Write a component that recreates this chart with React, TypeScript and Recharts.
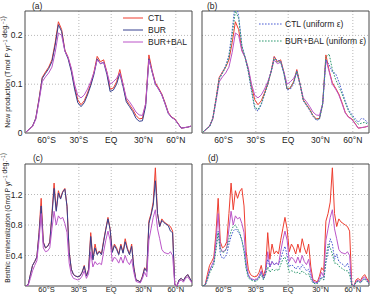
import {
  CartesianGrid,
  Line,
  LineChart,
  ReferenceArea,
  XAxis,
  YAxis,
} from "recharts";

// latitude grids (deg, south negative)
const npLat = [
  -79, -76, -73, -70, -67, -64, -61, -58, -55, -52,
  -49, -46, -43, -40, -37, -34, -31, -28, -25, -22,
  -19, -16, -13, -10, -7, -4, -1, 2, 5, 8,
  11, 14, 17, 20, 23, 26, 29, 32, 35, 38,
  41, 44, 47, 50, 53, 56, 59, 62, 65, 68,
  71, 74,
];
const brLat = [
  -79, -77, -75, -73, -71, -69, -67, -65, -63, -61,
  -59, -57, -55, -53, -51, -49, -47, -45, -43, -41,
  -39, -37, -35, -33, -31, -29, -27, -25, -23, -21,
  -19, -17, -15, -13, -11, -9, -7, -5, -3, -1,
  1, 3, 5, 7, 9, 11, 13, 15, 17, 19,
  21, 23, 25, 27, 29, 31, 33, 35, 37, 39,
  41, 43, 45, 47, 49, 51, 53, 55, 57, 59,
  61, 63, 65, 67, 69, 71, 73, 75,
];

// new production, Tmol P / yr / deg
const npCtl = [
  0.002, 0.008, 0.014, 0.03, 0.07, 0.114, 0.125, 0.135, 0.15, 0.185,
  0.228, 0.212, 0.17, 0.155, 0.13, 0.095, 0.068, 0.058, 0.066, 0.082,
  0.1, 0.125, 0.157, 0.146, 0.15, 0.125, 0.09, 0.092, 0.105, 0.13,
  0.1, 0.068, 0.058, 0.048, 0.036, 0.029, 0.03, 0.06, 0.16, 0.128,
  0.103, 0.092, 0.08, 0.062, 0.042, 0.033, 0.029, 0.02, 0.01, 0.011,
  0.012, 0.014,
];
const npBur = [
  0.002, 0.008, 0.014, 0.03, 0.068, 0.112, 0.122, 0.132, 0.146, 0.18,
  0.222, 0.208, 0.168, 0.152, 0.126, 0.09, 0.062, 0.054, 0.062, 0.078,
  0.097, 0.12, 0.152, 0.142, 0.145, 0.12, 0.085, 0.088, 0.1, 0.122,
  0.095, 0.064, 0.054, 0.044, 0.03, 0.024, 0.025, 0.055, 0.152, 0.125,
  0.1, 0.09, 0.078, 0.06, 0.04, 0.032, 0.028, 0.019, 0.01, 0.011,
  0.012, 0.014,
];
const npBurBal = [
  0.002, 0.008, 0.013, 0.028, 0.065, 0.105, 0.115, 0.123, 0.135, 0.165,
  0.205, 0.2, 0.168, 0.155, 0.133, 0.1, 0.077, 0.072, 0.078, 0.09,
  0.105, 0.124, 0.15, 0.142, 0.145, 0.125, 0.1, 0.105, 0.112, 0.123,
  0.1, 0.072, 0.064, 0.054, 0.043, 0.037, 0.036, 0.06, 0.15, 0.126,
  0.1, 0.09, 0.078, 0.06, 0.041, 0.032, 0.028, 0.019, 0.01, 0.011,
  0.012, 0.014,
];
const npCtlUni = [
  0.002, 0.008, 0.014, 0.03, 0.07, 0.112, 0.125, 0.138, 0.16, 0.21,
  0.27, 0.24, 0.18, 0.155, 0.125, 0.085, 0.05, 0.045, 0.058, 0.078,
  0.1, 0.125, 0.155, 0.148, 0.148, 0.122, 0.088, 0.09, 0.1, 0.128,
  0.1, 0.066, 0.056, 0.046, 0.034, 0.026, 0.028, 0.058, 0.15, 0.14,
  0.125, 0.122, 0.105, 0.085, 0.065, 0.048, 0.038, 0.03, 0.022, 0.03,
  0.028, 0.02,
];
const npBurBalUni = [
  0.002, 0.008, 0.013, 0.029, 0.068, 0.11, 0.122, 0.135, 0.155, 0.2,
  0.25, 0.235, 0.178, 0.155, 0.127, 0.088, 0.052, 0.048, 0.06, 0.08,
  0.1, 0.124, 0.153, 0.145, 0.146, 0.122, 0.09, 0.094, 0.104, 0.126,
  0.1, 0.068, 0.058, 0.048, 0.036, 0.028, 0.029, 0.06, 0.155, 0.162,
  0.13, 0.11, 0.095, 0.08, 0.062, 0.045, 0.035, 0.025, 0.018, 0.02,
  0.022, 0.018,
];

// benthic remineralization, Gmol P / yr / deg
const brCtl = [
  0, 0.02, 0.15, 0.27, 0.32, 0.38, 0.7, 1.15, 0.58, 0.5,
  0.52, 0.58, 0.95, 1.35, 1.0, 1.25, 1.15, 1.24, 1.28, 1.05,
  0.45, 0.22, 0.15, 0.13, 0.12, 0.13, 0.18, 0.27, 0.13, 0.22,
  0.7, 0.35, 0.55, 0.42, 0.46, 0.42, 0.6, 0.75, 0.9, 0.75,
  0.45, 0.55, 0.5, 0.42, 0.55, 0.44, 0.62, 0.5, 0.42, 0.55,
  0.25, 0.08, 0.07, 0.05, 0.13, 0.24, 0.2, 0.85, 0.95, 1.1,
  1.55, 0.95, 0.78, 0.88, 0.84, 0.82, 0.8, 0.78, 0.72, 0.02,
  0, 0.08, 0.1, 0.07, 0.12, 0.15, 0.1, 0.05,
];
const brBur = [
  0, 0.02, 0.15, 0.27, 0.32, 0.38, 0.68, 1.05, 0.57, 0.5,
  0.52, 0.57, 0.92, 1.28, 0.98, 1.22, 1.14, 1.23, 1.27, 1.04,
  0.44, 0.22, 0.15, 0.13, 0.12, 0.13, 0.18, 0.26, 0.13, 0.21,
  0.65, 0.34, 0.5, 0.41, 0.45, 0.41, 0.58, 0.74, 0.88, 0.74,
  0.44, 0.53, 0.48, 0.41, 0.53, 0.43, 0.58, 0.48, 0.41, 0.52,
  0.24, 0.08, 0.07, 0.05, 0.12, 0.23, 0.19, 0.82, 0.93, 1.06,
  1.38, 0.95, 0.78, 0.86, 0.83, 0.81, 0.79, 0.72, 0.7, 0.02,
  0, 0.08, 0.1, 0.07, 0.12, 0.15, 0.1, 0.05,
];
const brBurBal = [
  0, 0.01, 0.1, 0.2, 0.27, 0.33, 0.6, 0.95, 0.5, 0.45,
  0.46, 0.5, 0.75, 0.98, 0.8, 0.92, 0.88, 0.9, 0.82, 0.7,
  0.3, 0.15, 0.1, 0.09, 0.08, 0.09, 0.13, 0.2, 0.1, 0.16,
  0.45, 0.25, 0.32, 0.28, 0.3, 0.28, 0.45, 0.6, 0.72, 0.6,
  0.32, 0.38, 0.35, 0.3, 0.38, 0.3, 0.4, 0.32, 0.28, 0.35,
  0.18, 0.06, 0.05, 0.04, 0.1, 0.18, 0.12, 0.6, 0.75, 0.9,
  1.0, 0.75, 0.62, 0.48, 0.44, 0.43, 0.42, 0.45, 0.4, 0.02,
  0, 0.06, 0.08, 0.05, 0.1, 0.12, 0.08, 0.04,
];
const brCtlUni = [
  0, 0.02, 0.1, 0.2, 0.25, 0.3, 0.5, 0.72, 0.42, 0.36,
  0.37, 0.42, 0.55, 0.65, 0.72, 0.75, 0.72, 0.68, 0.6, 0.48,
  0.25, 0.13, 0.09, 0.08, 0.07, 0.08, 0.12, 0.18, 0.1, 0.2,
  0.35, 0.25, 0.32, 0.28, 0.3, 0.28, 0.35, 0.45, 0.52, 0.4,
  0.25, 0.28, 0.26, 0.22, 0.26, 0.22, 0.28, 0.24, 0.2, 0.22,
  0.12, 0.05, 0.04, 0.04, 0.08, 0.12, 0.08, 0.3, 0.45, 0.62,
  0.55, 0.35, 0.42, 0.32, 0.3, 0.28, 0.25, 0.3, 0.22, 0.01,
  0, 0.05, 0.07, 0.04, 0.08, 0.1, 0.07, 0.03,
];
const brBurBalUni = [
  0, 0.01, 0.08, 0.17, 0.22, 0.28, 0.48, 0.7, 0.48, 0.44,
  0.45, 0.5, 0.62, 0.72, 0.78, 0.8, 0.75, 0.7, 0.6, 0.45,
  0.22, 0.11, 0.08, 0.07, 0.06, 0.07, 0.1, 0.15, 0.08, 0.15,
  0.25, 0.18, 0.22, 0.2, 0.22, 0.2, 0.28, 0.35, 0.38, 0.3,
  0.18, 0.2, 0.19, 0.17, 0.18, 0.16, 0.2, 0.17, 0.15, 0.16,
  0.09, 0.04, 0.03, 0.03, 0.06, 0.1, 0.08, 0.35, 0.55, 0.5,
  0.42, 0.3, 0.3, 0.26, 0.24, 0.22, 0.2, 0.2, 0.15, 0.01,
  0, 0.05, 0.06, 0.04, 0.07, 0.09, 0.06, 0.03,
];

const latTicks = [-60, -30, 0, 30, 60];
const npTicks = [0, 0.1, 0.2];
const brTicks = [0.4, 0.8, 1.2];

const FONT = "'Liberation Sans', Arial, Helvetica, sans-serif";
const COLORS = {
  ctl: "#ee3d2f",
  bur: "#36418f",
  burBal: "#bb55c8",
  ctlUni: "#4a5cd4",
  burBalUni: "#2e9a70",
};

type Series = { key: keyof typeof COLORS; dashed?: boolean };

function rows(lat: number[], cols: Record<string, number[]>) {
  return lat.map((l, i) => {
    const r: Record<string, number> = { lat: l };
    for (const k of Object.keys(cols)) r[k] = cols[k][i];
    return r;
  });
}

const npData = rows(npLat, {
  ctl: npCtl,
  bur: npBur,
  burBal: npBurBal,
  ctlUni: npCtlUni,
  burBalUni: npBurBalUni,
});
const brData = rows(brLat, {
  ctl: brCtl,
  bur: brBur,
  burBal: brBurBal,
  ctlUni: brCtlUni,
  burBalUni: brBurBalUni,
});

function fmtLat(v: number) {
  if (v === 0) return "EQ";
  return v < 0 ? `${-v}°S` : `${v}°N`;
}

type PanelProps = {
  left: number;
  top: number;
  width: number;
  height: number;
  margin: { top: number; right: number; bottom: number; left: number };
  xHeight: number;
  xMargin: number;
  xFont: number;
  data: Record<string, number>[];
  yMax: number;
  yTicks: number[];
  showY: boolean;
  series: Series[];
};

function Panel(p: PanelProps) {
  const tick = { fill: "#222", fontSize: 8.5, fontFamily: FONT };
  return (
    <div style={{ position: "absolute", left: p.left, top: p.top }}>
      <LineChart width={p.width} height={p.height} data={p.data} margin={p.margin}>
        <CartesianGrid
          stroke="#b8b8b8"
          strokeDasharray="1 2"
          horizontalValues={p.yTicks.filter((v) => v > 0)}
          verticalValues={latTicks}
        />
        <XAxis
          dataKey="lat"
          type="number"
          domain={[-80, 75]}
          ticks={latTicks}
          tickFormatter={fmtLat}
          tick={{ ...tick, fontSize: p.xFont }}
          tickSize={0}
          tickMargin={p.xMargin}
          axisLine={false}
          tickLine={false}
          height={p.xHeight}
          allowDataOverflow
        />
        <YAxis
          type="number"
          domain={[0, p.yMax]}
          ticks={p.yTicks}
          allowDataOverflow
          hide={!p.showY}
          width={25}
          tick={tick}
          tickSize={0}
          tickMargin={2.5}
          axisLine={false}
          tickLine={false}
        />
        {p.series.map((s) => (
          <Line
            key={s.key}
            type="linear"
            dataKey={s.key}
            stroke={COLORS[s.key]}
            strokeWidth={1}
            strokeDasharray={s.dashed ? "1.6 1.4" : undefined}
            dot={false}
            activeDot={false}
            isAnimationActive={false}
          />
        ))}
        <ReferenceArea
          x1={-80}
          x2={75}
          y1={0}
          y2={p.yMax}
          fill="none"
          stroke="#4a4a4a"
          strokeWidth={1}
          ifOverflow="visible"
        />
      </LineChart>
    </div>
  );
}

const leftSeries: Series[] = [{ key: "ctl" }, { key: "bur" }, { key: "burBal" }];
const rightSeries: Series[] = [
  { key: "ctl" },
  { key: "burBal" },
  { key: "ctlUni", dashed: true },
  { key: "burBalUni", dashed: true },
];

function Sup({ children }: { children: string }) {
  return (
    <>
      <tspan dy={-2.3} fontSize={4.8}>
        {children}
      </tspan>
      <tspan dy={2.3}>{""}</tspan>
    </>
  );
}

export default function App() {
  const txt = { fontFamily: FONT, fill: "#222" };
  return (
    <div
      style={{
        position: "absolute",
        left: 0,
        top: 0,
        width: 373,
        height: 294,
        overflow: "hidden",
        background: "#fff",
      }}
    >
      <Panel
        left={0}
        top={0}
        width={195}
        height={150}
        margin={{ top: 11, right: 3, bottom: 0, left: 0 }}
        xHeight={17}
        xMargin={4}
        xFont={8.5}
        data={npData}
        yMax={0.25}
        yTicks={npTicks}
        showY
        series={leftSeries}
      />
      <Panel
        left={195}
        top={0}
        width={178}
        height={150}
        margin={{ top: 11, right: 4, bottom: 0, left: 7 }}
        xHeight={17}
        xMargin={4}
        xFont={8.5}
        data={npData}
        yMax={0.25}
        yTicks={npTicks}
        showY={false}
        series={rightSeries}
      />
      <Panel
        left={0}
        top={150}
        width={195}
        height={144}
        margin={{ top: 14, right: 3, bottom: 0, left: 0 }}
        xHeight={8}
        xMargin={0.5}
        xFont={7.5}
        data={brData}
        yMax={1.6}
        yTicks={brTicks}
        showY
        series={leftSeries}
      />
      <Panel
        left={195}
        top={150}
        width={178}
        height={144}
        margin={{ top: 14, right: 4, bottom: 0, left: 7 }}
        xHeight={8}
        xMargin={0.5}
        xFont={7.5}
        data={brData}
        yMax={1.6}
        yTicks={brTicks}
        showY={false}
        series={rightSeries}
      />
      <svg
        width={373}
        height={294}
        style={{ position: "absolute", left: 0, top: 0, pointerEvents: "none" }}
      >
        {/* panel letters */}
        <text x={32} y={9} fontSize={8.5} {...txt}>(a)</text>
        <text x={207} y={9} fontSize={8.5} {...txt}>(b)</text>
        <text x={33} y={161} fontSize={8.5} {...txt}>(c)</text>
        <text x={208} y={161} fontSize={8.5} {...txt}>(d)</text>

        {/* y labels */}
        <text
          transform="translate(9.5,72) rotate(-90)"
          textAnchor="middle"
          fontSize={7}
          {...txt}
        >
          New production (Tmol P yr<Sup>−1</Sup> deg.<Sup>−1</Sup>)
        </text>
        <text
          transform="translate(9.5,218) rotate(-90)"
          textAnchor="middle"
          fontSize={6.5}
          {...txt}
        >
          Benthic remineralization (Gmol P yr<Sup>−1</Sup> deg.<Sup>−1</Sup>)
        </text>

        {/* legend (a) */}
        {(["ctl", "bur", "burBal"] as const).map((k, i) => (
          <g key={k}>
            <line x1={123} x2={143} y1={18 + i * 12} y2={18 + i * 12} stroke={COLORS[k]} strokeWidth={1} />
            <text x={148} y={21 + i * 12} fontSize={8.5} {...txt}>
              {["CTL", "BUR", "BUR+BAL"][i]}
            </text>
          </g>
        ))}

        {/* legend (b) */}
        {(["ctlUni", "burBalUni"] as const).map((k, i) => (
          <g key={k}>
            <line
              x1={259}
              x2={282}
              y1={24 + i * 17}
              y2={24 + i * 17}
              stroke={COLORS[k]}
              strokeWidth={1}
              strokeDasharray="1.6 1.4"
            />
            <text x={285} y={27 + i * 17} fontSize={8.5} {...txt}>
              {["CTL (uniform ε)", "BUR+BAL (uniform ε)"][i]}
            </text>
          </g>
        ))}
      </svg>
    </div>
  );
}
